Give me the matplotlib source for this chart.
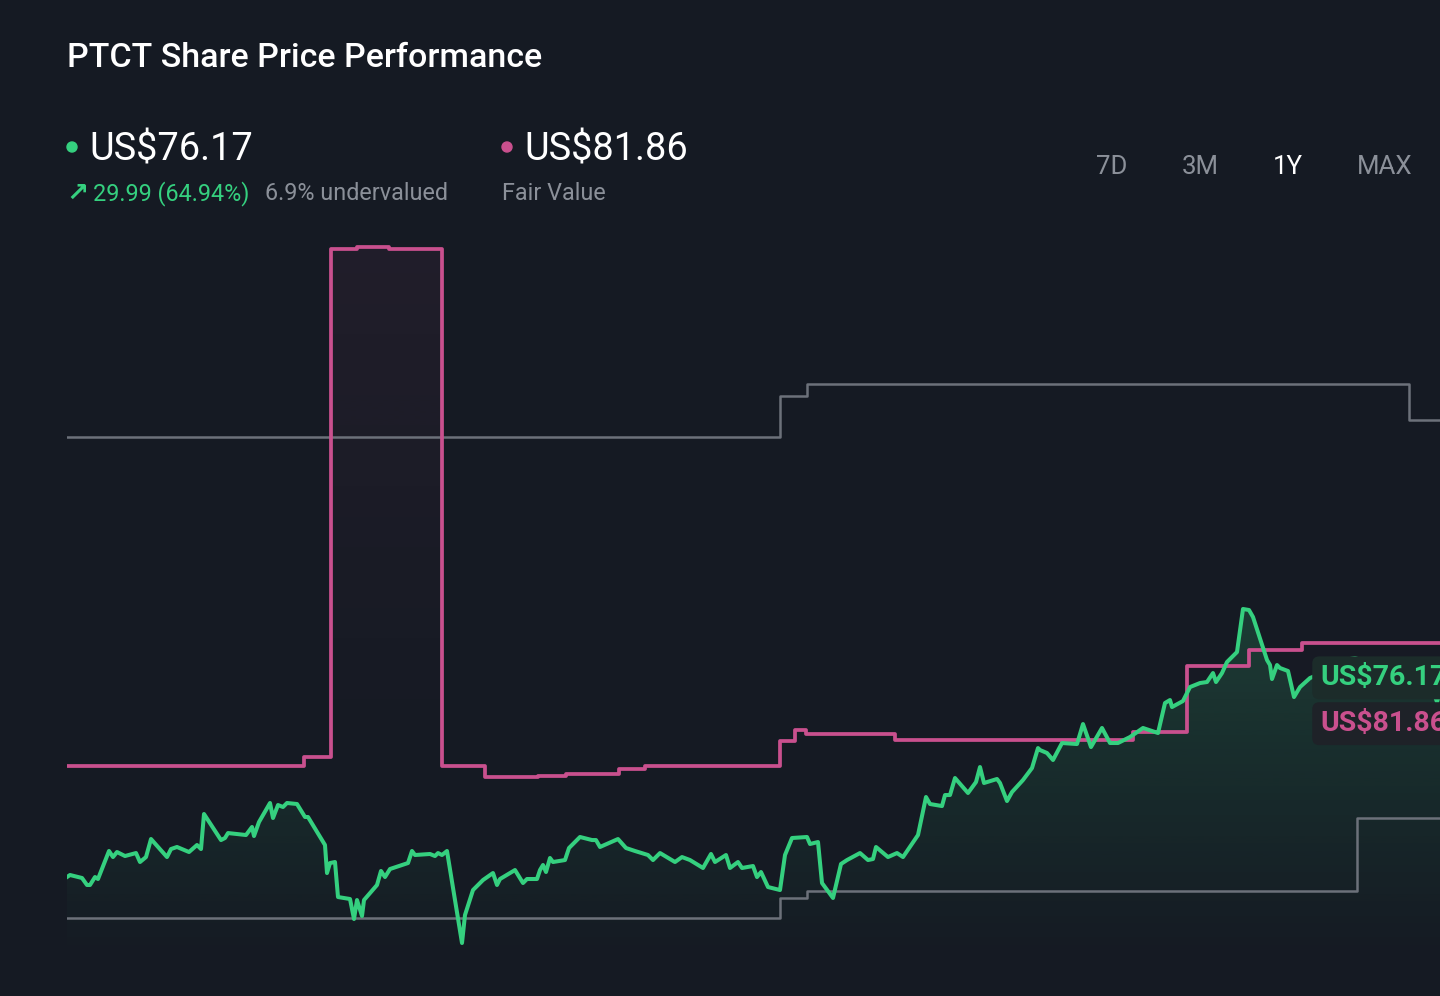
import numpy as np
import matplotlib.pyplot as plt
from matplotlib.colors import to_rgb
from matplotlib.patches import Ellipse

plt.rcParams['font.family'] = ['Roboto', 'DejaVu Sans']

# ===== colours =====
BG = '#151a23'
GREEN = '#35d07f'
PINK = '#c9508e'
GREY_LINE = '#6c717a'
GREY_TEXT = '#8b9099'

# ===== data (x = day index, y = US$) =====
current_price = 76.17
fair_value_now = 81.86

price_day = [0, 0.75, 3.75, 5, 5.75, 7, 7.75, 10.5, 11.5, 12.5, 14.5, 17.25, 18.25, 19.75, 21,
             25, 26, 27.5, 30.5, 32.5, 33.5, 34.25, 38.5, 39.5, 40.25, 44.75, 46.25, 46.75, 48,
             50.75, 51.5, 52.75, 54, 55, 57.5, 59.5, 60.25, 64.5, 65, 65.75, 67, 67.75, 70.75,
             71.75, 72.5, 73.75, 74.25, 77.5, 78.5, 79.5, 80.75, 85.25, 86.25, 87, 90.75, 92,
             92.75, 93.75, 95, 98.75, 99.5, 101.5, 104, 106.5, 107.5, 108.25, 112, 114, 115,
             117.5, 118.25, 119, 119.75, 120.75, 121.5, 124.5, 125.5, 128.25, 131.25, 132.25,
             133.25, 137.75, 139.75, 142, 145.25, 146.5, 148.25, 152, 153.75, 155.75, 159, 161,
             162, 164.75, 165.75, 167.75, 168.75, 171.5, 172.5, 173.5, 175.25, 178.25, 179.5,
             181.25, 185, 185.75, 187.75, 188.75, 191.5, 193.5, 195, 198.25, 200.25, 201.5,
             202.25, 205.25, 207.5, 209, 212.75, 214.75, 215.75, 218.75, 219.5, 220.75, 222,
             225.25, 227.25, 228.25, 229.25, 232.5, 233.25, 235, 236.25, 239, 241.25, 242.75,
             243.25, 245, 246.5, 248.75, 252.5, 254, 256, 258.75, 260.75, 262.75, 265.75, 269,
             272.75, 274.5, 275.75, 276.25, 279, 280.75, 283.25, 285, 286.5, 287.25, 288.75,
             290, 292.5, 294, 295.5, 296.5, 300, 300.75, 301.25, 302.5, 303.25, 305.25, 306.75,
             308.25, 310.75, 314.5, 318.25, 322, 327, 332, 337, 340.75, 342.5, 343.25]
price = [47.49, 47.79, 47.35, 46.32, 46.32, 47.49, 47.20, 51.32, 50.43, 51.17, 50.58, 51.02,
         49.70, 50.43, 53.08, 50.43, 51.61, 51.91, 51.17, 52.20, 51.61, 56.76, 52.93, 53.23,
         53.96, 53.67, 54.85, 53.52, 55.58, 58.38, 56.17, 58.08, 57.79, 58.38, 58.23, 56.32,
         56.32, 52.20, 48.08, 49.55, 49.70, 44.55, 44.26, 41.32, 44.11, 41.76, 44.11, 46.32,
         48.38, 47.49, 48.67, 49.55, 51.32, 50.73, 50.88, 50.58, 51.02, 50.73, 51.32, 37.79,
         41.91, 45.58, 47.05, 48.08, 46.32, 47.20, 48.52, 46.61, 47.20, 47.20, 48.52, 49.26,
         48.23, 50.29, 49.70, 49.99, 51.76, 53.38, 52.93, 52.93, 51.91, 53.08, 51.76, 51.32,
         50.73, 49.99, 51.02, 49.70, 50.43, 49.99, 48.82, 50.88, 49.70, 50.73, 48.82, 49.70,
         48.82, 49.11, 47.49, 48.23, 46.02, 45.58, 50.73, 53.23, 53.38, 52.35, 52.64, 46.61,
         44.41, 49.41, 49.99, 51.02, 49.99, 50.14, 51.91, 50.43, 51.02, 50.43, 53.67, 59.26,
         58.23, 57.93, 59.55, 59.55, 62.05, 59.85, 61.46, 63.67, 61.32, 61.91, 61.32, 58.67,
         59.99, 61.76, 63.52, 66.46, 66.17, 65.73, 64.70, 67.20, 67.05, 69.99, 66.61, 69.41,
         67.20, 67.20, 68.08, 69.41, 68.67, 73.08, 73.52, 72.49, 73.38, 75.43, 76.02, 76.17,
         77.49, 76.17, 77.49, 79.11, 80.58, 86.91, 86.76, 85.73, 79.41, 78.67, 76.61, 78.67,
         78.23, 77.79, 73.96, 75.43, 76.76, 77.64, 79.26, 79.70, 78.67, 77.93, 77.05, 76.17,
         73.23, 74.70]

fair_day = [0, 59.25, 66, 72.5, 80.5, 93.75, 104.5, 117.75, 124.75, 138, 144.5, 178.25,
            182, 184.75, 207, 266.5, 280, 295.5, 308.75, 343.25]
fair_value = [63.82, 65.14, 139.85, 140.14, 139.85, 63.82, 62.20, 62.35, 62.64, 63.38, 63.82,
              67.49, 69.11, 68.52, 67.64, 68.82, 78.52, 80.90, 81.86, 81.86]

high_day = [0, 178.25, 185, 335.5, 343.25]
analyst_high = [112.20, 118.23, 120.00, 114.70, 114.70]
low_day = [0, 178.25, 185, 322.5, 343.25]
analyst_low = [41.46, 44.41, 45.43, 56.17, 56.17]

periods = ['7D', '3M', '1Y', 'MAX']
period_x = [1096, 1182, 1273, 1357]
active_period = '1Y'

X_MAX = 343.25
Y_MIN, Y_MAX = 35.29, 144.85

W, H = 1440, 996


def fx(px):
    return px / W


def fy(py):
    return 1 - py / H


def gradient_fill(ax, x, y, color, a_top, a_bot, y_top, y_bot, step=None, zorder=1):
    poly = ax.fill_between(x, y, y_bot, step=step, facecolor='none', edgecolor='none')
    path = poly.get_paths()[0]
    rgba = np.zeros((200, 1, 4))
    rgba[..., :3] = to_rgb(color)
    rgba[..., 3] = np.linspace(a_top, a_bot, 200)[:, None]
    im = ax.imshow(rgba, extent=[0, X_MAX, y_bot, y_top], origin='upper',
                   aspect='auto', zorder=zorder, interpolation='bilinear')
    im.set_clip_path(path, transform=ax.transData)


fig = plt.figure(figsize=(14.4, 9.96), dpi=100, facecolor=BG)
ax = fig.add_axes([fx(67), fy(960), fx(W - 67), (960 - 215) / H])
ax.set_facecolor(BG)
ax.axis('off')

# fills
gradient_fill(ax, fair_day, fair_value, PINK, 0.07, 0.0, 140.2, 60, step='post', zorder=1)
gradient_fill(ax, price_day, price, GREEN, 0.19, 0.0, max(price), Y_MIN, zorder=2)

# analyst range lines
ax.plot(high_day, analyst_high, drawstyle='steps-post', color=GREY_LINE, lw=1.8, zorder=3)
ax.plot(low_day, analyst_low, drawstyle='steps-post', color=GREY_LINE, lw=1.8, zorder=3)

# fair value
ax.plot(fair_day, fair_value, drawstyle='steps-post', color=PINK, lw=2.7, zorder=4)

# share price
ax.plot(price_day, price, color=GREEN, lw=2.9, zorder=5, solid_joinstyle='round')

ax.set_xlim(0, X_MAX)
ax.set_ylim(Y_MIN, Y_MAX)

# end labels
label_x = 313.3
ax.annotate(f'US${current_price:.2f}', xy=(label_x, current_price), xytext=(0, 3),
            textcoords='offset points', color=GREEN, fontsize=20.5, fontweight='bold',
            va='center', ha='left', annotation_clip=False, zorder=7,
            bbox=dict(boxstyle='round,pad=0.28,rounding_size=0.25', fc='#1c2c2a', ec='none'))
ax.annotate(f'US${fair_value_now:.2f}', xy=(label_x, current_price), xytext=(0, -30),
            textcoords='offset points', color=PINK, fontsize=20.5, fontweight='bold',
            va='center', ha='left', annotation_clip=False, zorder=7,
            bbox=dict(boxstyle='round,pad=0.28,rounding_size=0.25', fc='#1e2228', ec='none'))

# header
fig.text(fx(67), fy(67), 'PTCT Share Price Performance', color='white', fontsize=24.5,
         fontweight=500, va='baseline', ha='left')

fig.add_artist(Ellipse((fx(72), fy(147)), 10 / W, 10 / H, transform=fig.transFigure,
                       color=GREEN))
fig.text(fx(89), fy(160), f'US${current_price:.2f}', color='white', fontsize=27.3,
         va='baseline', ha='left')
fig.text(fx(66), fy(201), '↗', color=GREEN, fontsize=19, fontweight='bold',
         va='baseline', ha='left', family=['DejaVu Sans'])
fig.text(fx(93), fy(200), '29.99 (64.94%)', color=GREEN, fontsize=16.8,
         va='baseline', ha='left')
fig.text(fx(265), fy(200), '6.9% undervalued', color=GREY_TEXT, fontsize=16.8,
         va='baseline', ha='left')

fig.add_artist(Ellipse((fx(507), fy(147)), 10 / W, 10 / H, transform=fig.transFigure,
                       color=PINK))
fig.text(fx(524), fy(160), f'US${fair_value_now:.2f}', color='white', fontsize=27.3,
         va='baseline', ha='left')
fig.text(fx(502), fy(200), 'Fair Value', color=GREY_TEXT, fontsize=16.8,
         va='baseline', ha='left')

for label, px in zip(periods, period_x):
    fig.text(fx(px), fy(174), label, color='white' if label == active_period else GREY_TEXT,
             fontsize=18.6, va='baseline', ha='left')

fig.savefig('out.png', dpi=100, facecolor=BG)
